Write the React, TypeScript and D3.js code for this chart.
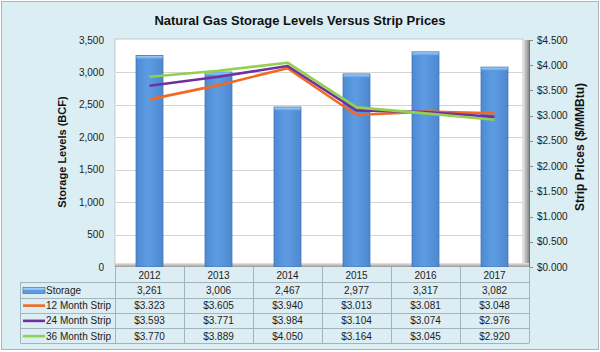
import React, { useEffect, useRef } from "react";
import * as d3 from "d3";

// chart values
const years = ["2012", "2013", "2014", "2015", "2016", "2017"];
const storage = [3261, 3006, 2467, 2977, 3317, 3082];
const strip12 = [3.323, 3.605, 3.94, 3.013, 3.081, 3.048];
const strip24 = [3.593, 3.771, 3.984, 3.104, 3.074, 2.976];
const strip36 = [3.77, 3.889, 4.05, 3.164, 3.045, 2.92];
const stripNames = ["12 Month Strip", "24 Month Strip", "36 Month Strip"];
const stripColors = ["#f26a21", "#7030a0", "#92d050"];
const storageTicks = [0, 500, 1000, 1500, 2000, 2500, 3000, 3500];
const priceTicks = [0, 0.5, 1, 1.5, 2, 2.5, 3, 3.5, 4, 4.5];

const FONT = "'Liberation Sans', Arial, sans-serif";

const App = () => {
  const ref = useRef<SVGSVGElement>(null);

  useEffect(() => {
    var width = 600,
      height = 352;
    var plot = { left: 115, right: 529, top: 40, bottom: 267 };
    var rowH = 15.25;

    var svg = d3.select(ref.current);
    svg.selectAll("*").remove();

    var defs = svg.append("defs");
    var barGrad = defs
      .append("linearGradient")
      .attr("id", "barGrad")
      .attr("x1", 0)
      .attr("x2", 1);
    barGrad.append("stop").attr("offset", "0%").attr("stop-color", "#4d8ad4");
    barGrad.append("stop").attr("offset", "45%").attr("stop-color", "#5e9ce2");
    barGrad.append("stop").attr("offset", "100%").attr("stop-color", "#4e88d0");
    var capGrad = defs
      .append("linearGradient")
      .attr("id", "capGrad")
      .attr("x1", 0)
      .attr("y1", 0)
      .attr("x2", 0)
      .attr("y2", 1);
    capGrad.append("stop").attr("offset", "0%").attr("stop-color", "#a3cdf6");
    capGrad.append("stop").attr("offset", "100%").attr("stop-color", "#62a0e4");
    var wallGrad = defs
      .append("linearGradient")
      .attr("id", "wallGrad")
      .attr("x1", 0)
      .attr("x2", 1);
    wallGrad.append("stop").attr("offset", "0%").attr("stop-color", "#e6e6e6");
    wallGrad.append("stop").attr("offset", "100%").attr("stop-color", "#8c8c8c");
    var floorGrad = defs
      .append("linearGradient")
      .attr("id", "floorGrad")
      .attr("x1", 0)
      .attr("y1", 0)
      .attr("x2", 0)
      .attr("y2", 1);
    floorGrad.append("stop").attr("offset", "0%").attr("stop-color", "#e8e8e8");
    floorGrad.append("stop").attr("offset", "100%").attr("stop-color", "#9a9a9a");

    // frame
    svg
      .append("rect")
      .attr("x", 1.5)
      .attr("y", 1.5)
      .attr("width", width - 3)
      .attr("height", height - 4)
      .attr("fill", "#dbeef4")
      .attr("stroke", "#a9b3b8");

    svg
      .append("text")
      .attr("x", 300)
      .attr("y", 25)
      .attr("text-anchor", "middle")
      .style("font", "bold 13px " + FONT)
      .attr("fill", "#111")
      .text("Natural Gas Storage Levels Versus Strip Prices");

    var x = d3.scaleBand().domain(years).range([plot.left, plot.right]);
    var yL = d3.scaleLinear().domain([0, 3500]).range([plot.bottom, plot.top]);
    var yR = d3.scaleLinear().domain([0, 4.5]).range([plot.bottom, plot.top]);

    // plot area
    svg
      .append("rect")
      .attr("x", plot.left)
      .attr("y", plot.top - 1)
      .attr("width", plot.right - plot.left - 6)
      .attr("height", plot.bottom - plot.top + 1)
      .attr("fill", "#fff")
      .attr("stroke", "#c8c8c8")
      .attr("stroke-width", 1);
    svg
      .append("rect")
      .attr("x", plot.right - 6)
      .attr("y", plot.top)
      .attr("width", 6)
      .attr("height", plot.bottom - plot.top)
      .attr("fill", "url(#wallGrad)");
    svg
      .append("rect")
      .attr("x", plot.left)
      .attr("y", plot.bottom - 4)
      .attr("width", plot.right - plot.left)
      .attr("height", 4)
      .attr("fill", "url(#floorGrad)");

    svg
      .append("g")
      .selectAll("line")
      .data(storageTicks.slice(1, -1))
      .enter()
      .append("line")
      .attr("x1", plot.left + 1)
      .attr("x2", plot.right - 6)
      .attr("y1", function (d) {
        return Math.round(yL(d)) + 0.5;
      })
      .attr("y2", function (d) {
        return Math.round(yL(d)) + 0.5;
      })
      .attr("stroke", "#d4d4d4")
      .attr("stroke-width", 1.2);

    // left axis labels
    svg
      .append("g")
      .selectAll("text")
      .data(storageTicks)
      .enter()
      .append("text")
      .attr("x", 104)
      .attr("y", function (d) {
        return yL(d);
      })
      .attr("dy", "0.35em")
      .attr("text-anchor", "end")
      .style("font", "10px " + FONT)
      .attr("fill", "#222")
      .text(function (d) {
        return d3.format(",")(d);
      });

    // right axis
    svg
      .append("line")
      .attr("x1", plot.right + 0.5)
      .attr("x2", plot.right + 0.5)
      .attr("y1", plot.top)
      .attr("y2", plot.bottom)
      .attr("stroke", "#6e6e6e");
    var rTicks = svg.append("g").selectAll("g").data(priceTicks).enter().append("g");
    rTicks
      .append("line")
      .attr("x1", plot.right)
      .attr("x2", plot.right + 4)
      .attr("y1", function (d) {
        return Math.round(yR(d)) + 0.5;
      })
      .attr("y2", function (d) {
        return Math.round(yR(d)) + 0.5;
      })
      .attr("stroke", "#888");
    rTicks
      .append("text")
      .attr("x", 537)
      .attr("y", function (d) {
        return yR(d);
      })
      .attr("dy", "0.35em")
      .style("font", "10px " + FONT)
      .attr("fill", "#222")
      .text(function (d) {
        return "$" + d3.format(".3f")(d);
      });

    svg
      .append("text")
      .attr("transform", "translate(66,152) rotate(-90)")
      .attr("text-anchor", "middle")
      .style("font", "bold 11px " + FONT)
      .attr("fill", "#111")
      .text("Storage Levels (BCF)");
    svg
      .append("text")
      .attr("transform", "translate(584,147) rotate(-90)")
      .attr("text-anchor", "middle")
      .style("font", "bold 12px " + FONT)
      .attr("fill", "#111")
      .text("Strip Prices ($/MMBtu)");

    // bars
    var bw = x.bandwidth() * 0.39;
    var bars = svg.append("g").selectAll("g").data(storage).enter().append("g");
    bars
      .append("rect")
      .attr("x", function (d, i) {
        return (x(years[i]) as number) + x.bandwidth() / 2 - bw / 2;
      })
      .attr("y", function (d) {
        return yL(d);
      })
      .attr("width", bw)
      .attr("height", function (d) {
        return plot.bottom - yL(d);
      })
      .attr("fill", "url(#barGrad)")
      .attr("stroke", "#3d6fad")
      .attr("stroke-width", 0.8);
    bars
      .append("rect")
      .attr("x", function (d, i) {
        return (x(years[i]) as number) + x.bandwidth() / 2 - bw / 2 + 0.4;
      })
      .attr("y", function (d) {
        return yL(d) + 0.4;
      })
      .attr("width", bw - 0.8)
      .attr("height", 3)
      .attr("fill", "url(#capGrad)");

    // strip lines
    var strips = [strip12, strip24, strip36];
    var line = d3
      .line<number>()
      .x(function (d, i) {
        return (x(years[i]) as number) + x.bandwidth() / 2;
      })
      .y(function (d) {
        return yR(d);
      });
    svg
      .append("g")
      .selectAll("path")
      .data(strips)
      .enter()
      .append("path")
      .attr("d", function (d) {
        return line(d);
      })
      .attr("fill", "none")
      .attr("stroke", function (d, i) {
        return stripColors[i];
      })
      .attr("stroke-width", 2.6)
      .attr("stroke-linejoin", "round");

    // data table
    var table = svg.append("g");
    var top = plot.bottom;
    var nRows = 5;
    var tableLeft = 20.5;
    table
      .append("rect")
      .attr("x", tableLeft)
      .attr("y", top + rowH)
      .attr("width", plot.left - tableLeft)
      .attr("height", rowH * 4)
      .attr("fill", "#dcedf3");
    table
      .append("rect")
      .attr("x", plot.left)
      .attr("y", top)
      .attr("width", plot.right - plot.left)
      .attr("height", rowH * nRows)
      .attr("fill", "#dcedf3");
    for (var r = 1; r <= nRows; r++) {
      table
        .append("line")
        .attr("x1", tableLeft)
        .attr("x2", plot.right)
        .attr("y1", Math.round(top + r * rowH) + 0.5)
        .attr("y2", Math.round(top + r * rowH) + 0.5)
        .attr("stroke", "#a3b4bc");
    }
    table
      .append("line")
      .attr("x1", tableLeft)
      .attr("x2", tableLeft)
      .attr("y1", top + rowH)
      .attr("y2", top + rowH * nRows)
      .attr("stroke", "#a3b4bc");
    x.domain().forEach(function (yr) {
      var xx = Math.round(x(yr) as number) + 0.5;
      table
        .append("line")
        .attr("x1", xx)
        .attr("x2", xx)
        .attr("y1", top)
        .attr("y2", top + rowH * nRows)
        .attr("stroke", "#a3b4bc");
    });
    table
      .append("line")
      .attr("x1", plot.right + 0.5)
      .attr("x2", plot.right + 0.5)
      .attr("y1", top)
      .attr("y2", top + rowH * nRows)
      .attr("stroke", "#a3b4bc");

    var rows = [
      years,
      storage.map(function (d) {
        return d3.format(",")(d);
      }),
    ].concat(
      strips.map(function (s) {
        return s.map(function (d) {
          return "$" + d3.format(".3f")(d);
        });
      })
    );
    rows.forEach(function (row, r) {
      table
        .selectAll(null)
        .data(row)
        .enter()
        .append("text")
        .attr("x", function (d, i) {
          return (x(years[i]) as number) + x.bandwidth() / 2;
        })
        .attr("y", top + r * rowH + rowH / 2 + 0.5)
        .attr("dy", "0.35em")
        .attr("text-anchor", "middle")
        .style("font", "10px " + FONT)
        .attr("fill", "#222")
        .text(function (d) {
          return d;
        });
    });

    // row labels with legend keys
    var labels = ["Storage"].concat(stripNames);
    labels.forEach(function (name, r) {
      var cy = top + (r + 1) * rowH + rowH / 2 + 0.5;
      if (r === 0) {
        table
          .append("rect")
          .attr("x", 23)
          .attr("y", cy - 3)
          .attr("width", 22)
          .attr("height", 6)
          .attr("fill", "#5e9be0")
          .attr("stroke", "#3d6fad")
          .attr("stroke-width", 0.7);
        table
          .append("rect")
          .attr("x", 23.4)
          .attr("y", cy - 2.6)
          .attr("width", 21.2)
          .attr("height", 2)
          .attr("fill", "#a3cdf6");
      } else {
        table
          .append("line")
          .attr("x1", 23)
          .attr("x2", 45)
          .attr("y1", cy)
          .attr("y2", cy)
          .attr("stroke", stripColors[r - 1])
          .attr("stroke-width", 2.6);
      }
      table
        .append("text")
        .attr("x", 46)
        .attr("y", cy)
        .attr("dy", "0.35em")
        .style("font", "10px " + FONT)
        .attr("fill", "#222")
        .text(name);
    });
  }, []);

  return (
    <svg
      ref={ref}
      width={600}
      height={352}
      style={{ position: "absolute", left: 0, top: 0 }}
    />
  );
};

export default App;
